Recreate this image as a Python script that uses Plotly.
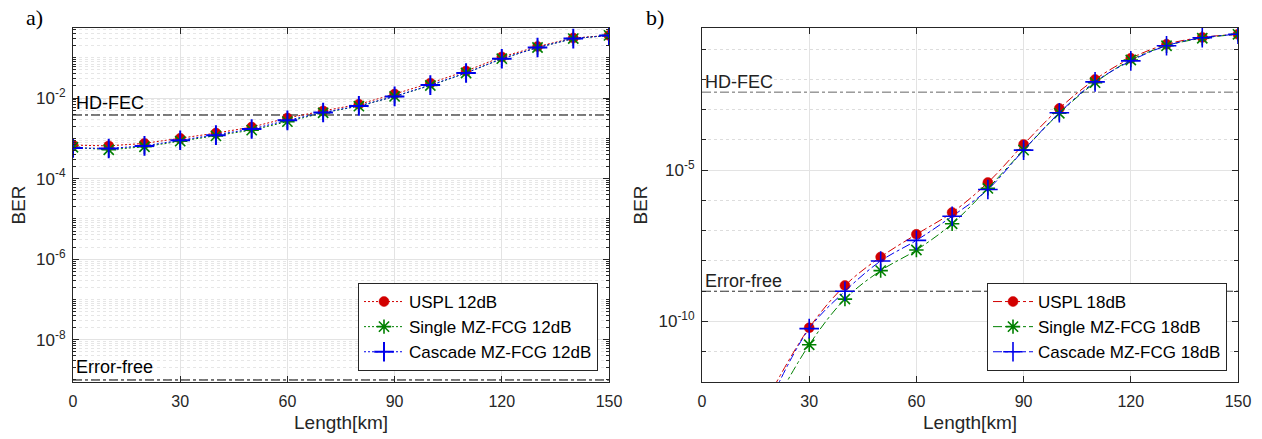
import numpy as np
import plotly.graph_objects as go

# ---------------- data ----------------
length_a = [0, 10, 20, 30, 40, 50, 60, 70, 80, 90, 100, 110, 120, 130, 140, 150]
uspl_12 = [6.8e-4, 6.5e-4, 7.5e-4, 1.0e-3, 1.35e-3, 1.9e-3, 3.2e-3, 4.8e-3, 7.0e-3,
           1.26e-2, 2.35e-2, 4.7e-2, 0.105, 0.19, 0.31, 0.36]
single_12 = [6.0e-4, 5.2e-4, 6.2e-4, 8.5e-4, 1.15e-3, 1.6e-3, 2.6e-3, 4.3e-3, 6.3e-3,
             1.1e-2, 2.05e-2, 4.2e-2, 0.095, 0.18, 0.30, 0.36]
cascade_12 = [5.8e-4, 5.6e-4, 6.5e-4, 9.0e-4, 1.2e-3, 1.7e-3, 2.8e-3, 4.4e-3, 6.4e-3,
              1.1e-2, 2.1e-2, 4.2e-2, 0.095, 0.18, 0.30, 0.36]

length_b = [20, 30, 40, 50, 60, 70, 80, 90, 100, 110, 120, 130, 140, 150]
uspl_18 = [6.5e-13, 6.2e-11, 1.55e-9, 1.35e-8, 7.6e-8, 4.0e-7, 3.9e-6, 7.1e-5, 1.1e-3,
           1.0e-2, 5.0e-2, 0.145, 0.245, 0.31]
single_18 = [1.6e-13, 1.7e-11, 5.5e-10, 4.8e-9, 2.3e-8, 1.7e-7, 2.5e-6, 4.6e-5, 7.6e-4,
             7.8e-3, 4.4e-2, 0.13, 0.23, 0.31]
cascade_18 = [4.0e-13, 5.8e-11, 1.0e-9, 1.0e-8, 4.8e-8, 3.0e-7, 2.3e-6, 4.6e-5, 7.9e-4,
              8.3e-3, 4.1e-2, 0.13, 0.24, 0.31]

hd_fec = 3.8e-3
error_free = 1e-9
x_ticks = [0, 30, 60, 90, 120, 150]
y_ticks_a = [1e-8, 1e-6, 1e-4, 1e-2]
y_ticktext_a = ["10<sup>-8</sup>", "10<sup>-6</sup>", "10<sup>-4</sup>", "10<sup>-2</sup>"]
y_ticks_b = [1e-10, 1e-5]
y_ticktext_b = ["10<sup>-10</sup>", "10<sup>-5</sup>"]

# ---------------- styles ----------------
RED = "rgb(210,0,0)"
GREEN = "rgb(0,128,0)"
BLUE = "rgb(0,0,235)"
AX = "#262626"
FONT = "Liberation Sans, Arial, sans-serif"

fig = go.Figure()

def add_series(x, y, name, color, symbol, size, dash, xa, ya, legend, lw, shape="linear"):
    marker = dict(symbol=symbol, size=size, color=color, line=dict(color=color, width=lw))
    fig.add_trace(go.Scatter(x=x, y=y, name=name, mode="lines+markers",
                             line=dict(color=color, width=1, dash=dash, shape=shape),
                             marker=marker, xaxis=xa, yaxis=ya, legend=legend))

# threshold lines (drawn first, below curves)
for xa, ya, col_h, col_e in [("x", "y", "black", "black"), ("x2", "y2", "#666666", "#333333")]:
    fig.add_trace(go.Scatter(x=[0, 150], y=[hd_fec, hd_fec], mode="lines", showlegend=False,
                             line=dict(color=col_h, width=1, dash="dashdot"), xaxis=xa, yaxis=ya,
                             hoverinfo="skip"))
    fig.add_trace(go.Scatter(x=[0, 150], y=[error_free, error_free], mode="lines", showlegend=False,
                             line=dict(color=col_e, width=1, dash="dashdot"), xaxis=xa, yaxis=ya,
                             hoverinfo="skip"))

DOT = "2px,2px"
add_series(length_a, uspl_12, "USPL 12dB", RED, "circle", 10, DOT, "x", "y", "legend", 0.5)
add_series(length_a, single_12, "Single MZ-FCG 12dB", GREEN, "asterisk-open", 12, DOT, "x", "y", "legend", 1.6)
add_series(length_a, cascade_12, "Cascade MZ-FCG 12dB", BLUE, "cross-thin-open", 14, DOT, "x", "y", "legend", 2)

add_series(length_b, uspl_18, "USPL 18dB", RED, "circle", 10, "dashdot", "x2", "y2", "legend2", 0.5, "spline")
add_series(length_b, single_18, "Single MZ-FCG 18dB", GREEN, "asterisk-open", 12, "dashdot", "x2", "y2", "legend2", 1.6, "spline")
add_series(length_b, cascade_18, "Cascade MZ-FCG 18dB", BLUE, "cross-thin-open", 14, "dashdot", "x2", "y2", "legend2", 1.6, "spline")

W, H = 1262, 439
dom_y = [1 - 382 / H, 1 - 28 / H]

xcommon = dict(range=[0, 150], tickvals=x_ticks, ticks="inside", ticklen=6, tickcolor=AX,
               showline=True, linecolor=AX, linewidth=1, mirror="ticks", automargin=False,
               showgrid=True, gridcolor="#e3e3e3", gridwidth=1, zeroline=False,
               ticklabelstandoff=5,
               tickfont=dict(family=FONT, size=16, color=AX),
               title=dict(text="Length[km]", font=dict(family=FONT, size=19, color=AX), standoff=6))
ycommon = dict(type="log", ticks="inside", ticklen=6, tickcolor=AX, automargin=False,
               showline=True, linecolor=AX, linewidth=1, mirror="ticks",
               showgrid=True, gridcolor="#e3e3e3", gridwidth=1, zeroline=False,
               ticklabelstandoff=3,
               tickfont=dict(family=FONT, size=17, color=AX),
               title=dict(text="BER", font=dict(family=FONT, size=19, color=AX), standoff=5))

fig.update_layout(
    width=W, height=H, autosize=False, margin=dict(l=0, r=0, t=0, b=0, autoexpand=False),
    paper_bgcolor="white", plot_bgcolor="white",
    font=dict(family=FONT, color=AX),
    xaxis=dict(domain=[73 / W, 609 / W], anchor="y", **xcommon),
    yaxis=dict(domain=dom_y, anchor="x", range=[-9.05, -0.26], tickvals=y_ticks_a,
               ticktext=y_ticktext_a,
               minor=dict(dtick="D1", ticks="inside", ticklen=3, tickcolor=AX, showgrid=True,
                          gridcolor="#e6e6e6", griddash="dot", gridwidth=1),
               **ycommon),
    xaxis2=dict(domain=[702 / W, 1238 / W], anchor="y2", **xcommon),
    yaxis2=dict(domain=dom_y, anchor="x2", range=[-12.0, -0.3], tickvals=y_ticks_b,
                ticktext=y_ticktext_b,
                minor=dict(dtick=1, ticks="inside", ticklen=4, tickcolor=AX, showgrid=True,
                           gridcolor="#dddddd", griddash="dot", gridwidth=1),
                **ycommon),
    legend=dict(x=598 / W, y=1 - 371 / H, xanchor="right", yanchor="bottom",
                bgcolor="white", bordercolor=AX, borderwidth=1,
                font=dict(family=FONT, size=17, color="black"), itemwidth=40,
                tracegroupgap=0),
    legend2=dict(x=1227 / W, y=1 - 371 / H, xanchor="right", yanchor="bottom",
                 bgcolor="white", bordercolor=AX, borderwidth=1,
                 font=dict(family=FONT, size=17, color="black"), itemwidth=40,
                 tracegroupgap=0),
    showlegend=True,
)

ann_font = dict(family=FONT, size=18, color="black")
fig.add_annotation(x=0, y=np.log10(hd_fec), xref="x", yref="y", text="HD-FEC", showarrow=False,
                   xanchor="left", yanchor="bottom", xshift=1, yshift=0, font=ann_font)
fig.add_annotation(x=0, y=np.log10(error_free), xref="x", yref="y", text="Error-free", showarrow=False,
                   xanchor="left", yanchor="bottom", xshift=1, yshift=1, font=ann_font)
fig.add_annotation(x=0, y=np.log10(hd_fec), xref="x2", yref="y2", text="HD-FEC", showarrow=False,
                   xanchor="left", yanchor="bottom", xshift=1, yshift=-2, font=dict(family=FONT, size=18, color="#222222"))
fig.add_annotation(x=0, y=np.log10(error_free), xref="x2", yref="y2", text="Error-free", showarrow=False,
                   xanchor="left", yanchor="bottom", xshift=1, yshift=-2, font=dict(family=FONT, size=18, color="#222222"))

panel_font = dict(family="Liberation Serif, Times New Roman, serif", size=22, color="black")
fig.add_annotation(x=24 / W, y=1 - 18 / H, xref="paper", yref="paper", text="a)", showarrow=False,
                   xanchor="left", yanchor="middle", font=panel_font)
fig.add_annotation(x=644 / W, y=1 - 18 / H, xref="paper", yref="paper", text="b)", showarrow=False,
                   xanchor="left", yanchor="middle", font=panel_font)

fig.write_html("out.html", config={"displayModeBar": False},
               post_script="document.body.style.margin='0px';document.body.style.overflow='hidden';")
